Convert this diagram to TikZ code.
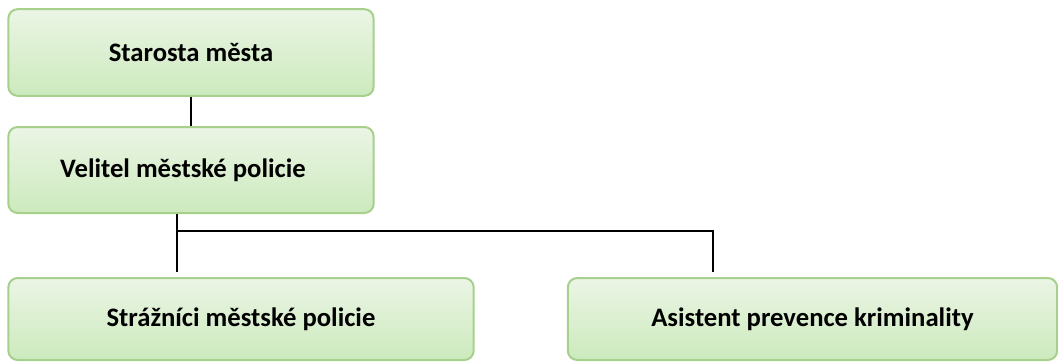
\documentclass[tikz,border=0pt]{standalone}
\usepackage{fontspec}
\setmainfont{Carlito}
\usetikzlibrary{positioning,calc}
\definecolor{boxline}{HTML}{A8D08D}
\definecolor{boxtop}{HTML}{EBF5E5}
\definecolor{boxbot}{HTML}{CCEABD}
\tikzstyle{unit} = [rectangle, rounded corners=7pt, draw=boxline, line width=1.5pt,
top color=boxtop, bottom color=boxbot, text=black, font=\bfseries\fontsize{20}{24}\selectfont,
inner sep=0pt, text centered]
\tikzstyle{link} = [line width=1.1pt, black]

\begin{document}
\begin{tikzpicture}[x=0.75pt,y=-0.75pt]
            \useasboundingbox (0,0) rectangle (1058,362);
            \node[unit, minimum width=274pt, minimum height=65pt] (starosta) at (191,52.5) {Starosta města};
            \node[unit, minimum width=274pt, minimum height=64.5pt] (velitel) at (191,170) {Velitel městské policie\hspace*{12pt}};
            \node[unit, minimum width=349pt, minimum height=61.5pt] (straznici) at (241,319) {Strážníci městské policie};
            \node[unit, minimum width=367pt, minimum height=61.5pt] (asistent) at (812.5,319) {Asistent prevence kriminality};
            \coordinate (split) at (177,231);
            \coordinate (turn) at (713,231);
            \draw[link] (starosta.south) -- (velitel.north);
            \draw[link] (velitel.south -| split) -- ($(straznici.north -| split)+(0,-5)$);
            \draw[link] (split) -- (turn) -- ($(asistent.north -| turn)+(0,-5)$);
        \end{tikzpicture}
\end{document}
